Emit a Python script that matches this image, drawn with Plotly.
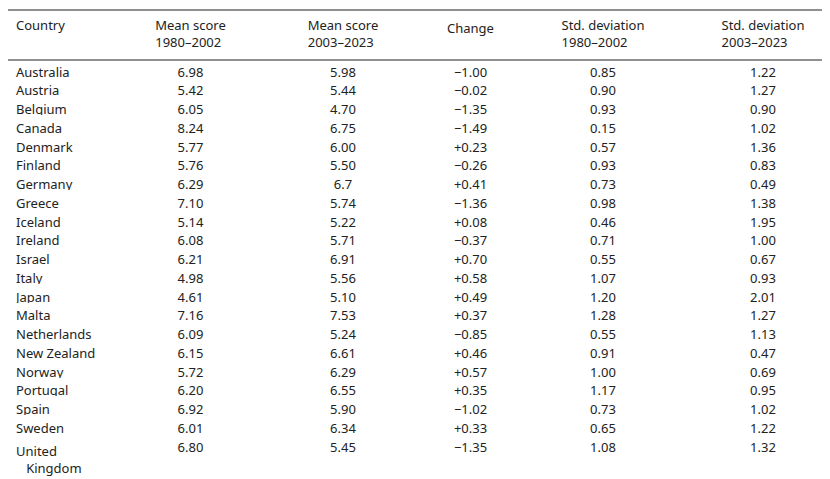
import plotly.graph_objects as go

countries = ["Australia","Austria","Belgium","Canada","Denmark","Finland","Germany","Greece","Iceland","Ireland","Israel","Italy","Japan","Malta","Netherlands","New Zealand","Norway","Portugal","Spain","Sweden","United<br>   Kingdom"]
mean_1 = ["6.98","5.42","6.05","8.24","5.77","5.76","6.29","7.10","5.14","6.08","6.21","4.98","4.61","7.16","6.09","6.15","5.72","6.20","6.92","6.01","6.80"]
mean_2 = ["5.98","5.44","4.70","6.75","6.00","5.50","6.7","5.74","5.22","5.71","6.91","5.56","5.10","7.53","5.24","6.61","6.29","6.55","5.90","6.34","5.45"]
change = ["\u22121.00","\u22120.02","\u22121.35","\u22121.49","+0.23","\u22120.26","+0.41","\u22121.36","+0.08","\u22120.37","+0.70","+0.58","+0.49","+0.37","\u22120.85","+0.46","+0.57","+0.35","\u22121.02","+0.33","\u22121.35"]
sd_1 = ["0.85","0.90","0.93","0.15","0.57","0.93","0.73","0.98","0.46","0.71","0.55","1.07","1.20","1.28","0.55","0.91","1.00","1.17","0.73","0.65","1.08"]
sd_2 = ["1.22","1.27","0.90","1.02","1.36","0.83","0.49","1.38","1.95","1.00","0.67","0.93","2.01","1.27","1.13","0.47","0.69","0.95","1.02","1.22","1.32"]
headers = ["<br>Country","Mean score<br>1980\u20132002","Mean score<br>2003\u20132023","<br>Change","Std. deviation<br>1980\u20132002","Std. deviation<br>2003\u20132023"]

font = dict(family="Noto Sans, Open Sans, sans-serif", size=13, color="#222222")
fig = go.Figure(go.Table(
    columnwidth=[110,145,160,95,170,150],
    domain=dict(x=[0,1], y=[0,1]),
    header=dict(values=headers, align=["left"]+["center"]*5, fill_color="white",
                line=dict(width=0, color="white"), font=font, height=50),
    cells=dict(values=[countries, mean_1, mean_2, change, sd_1, sd_2],
               align=["left"]+["center"]*5, fill_color="white",
               line=dict(width=0, color="white"), font=font, height=18.75),
))
H = 479
def py(px): return 1 - px / H
for y in [2, 52, 477]:
    fig.add_shape(type="line", xref="paper", yref="paper", x0=0, x1=1, y0=py(y), y1=py(y),
                  line=dict(color="#222222", width=1.2))
fig.update_layout(width=830, height=479, margin=dict(l=0, r=0, t=0, b=0),
                  paper_bgcolor="white", plot_bgcolor="white")
fig.write_html("out.html")
